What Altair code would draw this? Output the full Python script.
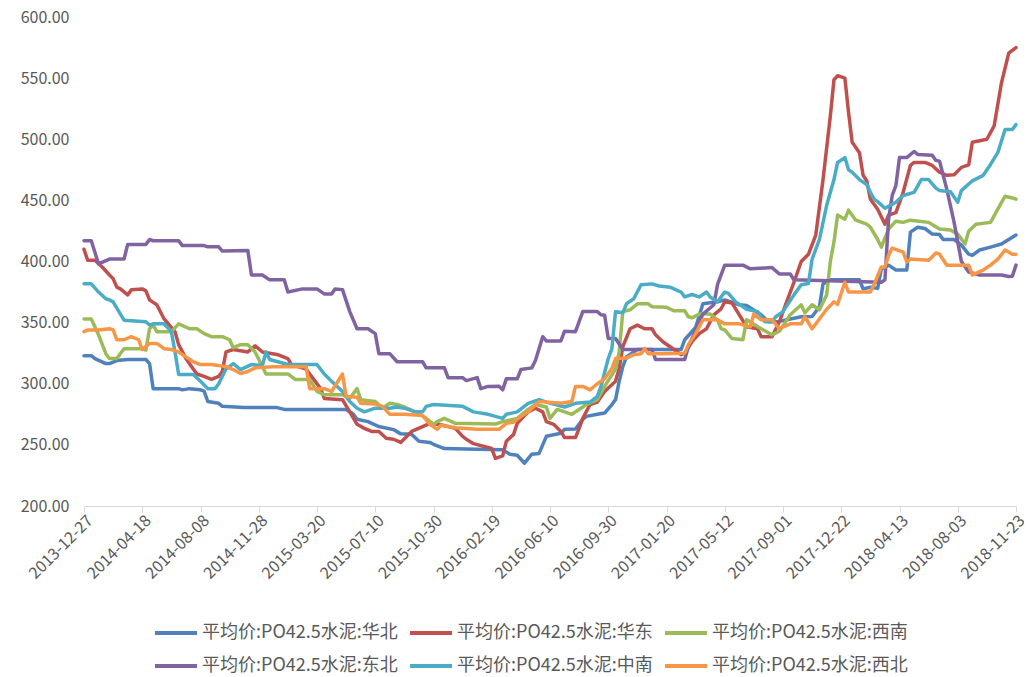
import altair as alt
import pandas as pd

TICK_LABELS = ["2013-12-27", "2014-04-18", "2014-08-08", "2014-11-28", "2015-03-20",
               "2015-07-10", "2015-10-30", "2016-02-19", "2016-06-10", "2016-09-30",
               "2017-01-20", "2017-05-12", "2017-09-01", "2017-12-22", "2018-04-13",
               "2018-08-03", "2018-11-23"]

SERIES_NAMES = ["平均价:PO42.5水泥:华北", "平均价:PO42.5水泥:华东", "平均价:PO42.5水泥:西南",
                "平均价:PO42.5水泥:东北", "平均价:PO42.5水泥:中南", "平均价:PO42.5水泥:西北"]
COLORS = ["#4F81BD", "#C0504D", "#9BBB59", "#8064A2", "#4BACC6", "#F79646"]

# (week index since 2013-12-27, price)
HUABEI = [(0,323),(2,323),(3,320.6),(6,316.5),(7,316.5),(9,319),(12,319.8),(17,319.8),(18,316.5),(19,296),(26,296),(27,295),(29,296),(32,295),(33,294),(34,285.5),(37,284),(38,281.5),(44,280.6),(53,280.5),(55,279),(64,279),(72,279),(74,275),(75,271),(78,269),(81,265),(85,262.5),(87,259),(90,258.6),(92,253),(95,252),(96,250.5),(99,247),(108,246.4),(115,246),(117,242.4),(119,241.5),(121,235),(123,242.4),(125,243),(127,257),(131,259.5),(132,262.7),(135,263),(137,270.9),(138,273.3),(141,275),(143,276),(145,283),(146,287),(147,302),(148,314),(149,322),(152,328),(164,328),(165,336),(168,346),(170,365.4),(174,367),(176,368.6),(180,364.6),(182,364),(186,356.4),(188,350.7),(191,351),(197,354.8),(200,355),(202,363),(203,381.7),(205,385),(213,385),(214,377.6),(216,379),(218,378),(219,394),(221,397),(223,393),(226,393),(227,424),(229,428),(231,427),(233,422.4),(235,422),(236,418),(239,418),(241,413.4),(243,406),(244,405),(246,409.4),(249,411.8),(252,414.3),(256,421.6)]
HUADONG = [(0,410),(1,401),(3,401),(5,395.5),(7,389),(8,386),(9,379),(10,377.6),(12,372.7),(13,376.8),(16,377.6),(17,376),(18,368.6),(20,364.6),(22,353),(25,342.6),(26,332),(28,320.6),(30,312),(31,308),(33,306),(35,303.5),(37,306),(38,310),(39,326),(41,328),(45,326),(47,331),(49,326),(53,324),(56,320.6),(57,315.7),(61,312),(63,304),(65,296),(66,288),(71,287),(73,277),(75,266.8),(77,263.5),(79,261),(81,261),(83,255.4),(85,254.6),(87,252),(88,255),(90,261),(93,265),(95,267.6),(98,266.5),(102,263.5),(104,257),(105,254.6),(107,251),(112,247),(113,239),(115,241),(116,253),(118,258.6),(119,267.6),(122,277),(124,280),(126,277),(127,269),(129,266.8),(131,261),(132,256),(135,256),(136,263.5),(137,271.7),(139,283),(141,285),(143,293.7),(146,302),(147,312.4),(148,330.3),(150,345),(152,348),(154,345),(156,345),(157,340),(159,334.4),(161,330.3),(164,323.8),(165,325),(167,334.4),(169,341),(171,345),(173,356.4),(175,361.3),(176,367),(178,366),(180,356.4),(182,346.6),(185,345),(186,338.5),(189,338.5),(191,350.7),(193,367),(195,383),(197,400),(199,406),(201,421.6),(203,467),(205,519),(206,548.7),(207,552),(209,550),(210,522),(211,497.6),(213,489),(214,470.5),(215,466),(216,451),(218,442.8),(220,430.5),(221,438),(223,440),(225,456.6),(227,478.6),(228,481),(231,481),(233,478.6),(235,473),(237,470.5),(239,471),(241,477),(243,479),(244,497.6),(248,500),(250,511),(252,546),(254,570.5),(256,575)]
XINAN = [(0,353),(2,353),(4,340),(6,324.6),(7,320.6),(9,320.6),(11,328.7),(16,328.7),(17,327.5),(18,345),(19,348),(20,342.6),(24,342.6),(26,349),(29,345),(31,345),(33,341),(35,338.5),(38,338.5),(40,336),(41,329.5),(43,332),(45,332),(47,326),(50,308),(56,308),(58,303.5),(62,303.5),(64,293.7),(66,291),(71,291),(73,288),(75,296),(76,287),(80,285.5),(82,280),(84,284),(86,283),(88,281),(91,277),(94,271.7),(96,266.8),(97,269),(99,271.7),(102,267.6),(113,267),(115,269),(119,271.7),(122,279),(124,283),(127,281),(128,271.7),(130,279),(132,277),(134,275),(136,279),(138,283),(141,287),(143,297.8),(146,312),(147,326),(148,359),(150,360.5),(152,365.4),(155,365.4),(156,363),(160,362.5),(162,359.7),(165,359.7),(166,354.8),(167,354),(169,357),(172,357),(174,352.3),(175,345),(176,344),(178,337),(181,336),(182,352.3),(186,345),(189,340),(191,343),(194,356.4),(197,364.6),(198,358),(200,364.6),(202,360.5),(204,372.7),(205,400),(206,416),(207,438),(209,434.6),(210,442),(212,433.8),(215,430.5),(216,428),(218,418),(219,411.8),(221,426.5),(223,433),(225,432),(227,433.8),(232,432),(235,426.5),(238,425.7),(240,422.4),(242,414.3),(243,424.8),(245,430.5),(249,432),(251,442.8),(253,453.4),(255,452),(256,451)]
DONGBEI = [(0,417),(2,417),(4,398),(7,402),(11,402),(12,414),(17,414),(18,418),(19,417),(26,417),(27,413),(33,413),(34,412),(37,412),(38,408.5),(45,409),(46,389),(49,389),(51,385),(55,385),(56,375),(60,377.6),(64,377.6),(66,373.5),(68,373.5),(69,377.6),(71,377),(73,359),(75,345),(78,345),(80,341),(81,324.6),(84,324.6),(86,318),(93,318),(94,313),(99,313),(100,305),(104,305),(105,302.6),(108,305),(109,296),(111,297.8),(114,298),(115,295),(116,304),(119,304),(120,311.6),(123,313),(124,319),(126,338.5),(127,335),(131,335),(132,343),(135,342.6),(137,359),(141,359),(142,356.4),(143,356),(144,337),(146,337),(148,328),(156,328),(157,319.8),(165,319.8),(166,330.3),(170,357),(173,364.6),(174,381),(176,397),(181,397),(183,394),(189,395),(191,389.8),(194,389.8),(195,385),(219,383),(220,385),(221,434.6),(222,454),(223,462),(224,485),(226,485),(228,490),(229,487.6),(233,487),(234,482.7),(235,482),(237,459),(239,432),(241,400),(243,391.4),(246,389),(252,389),(254,387.7),(255,388),(256,397)]
ZHONGNAN = [(0,381.7),(2,381.7),(4,375),(6,369.5),(7,368.6),(8,367),(10,357),(11,352),(17,350.7),(18,348),(19,349),(22,349),(24,342.6),(25,326),(26,307.5),(30,307.5),(32,302),(34,296),(36,296),(37,300),(39,312),(41,316.5),(43,311.6),(44,313),(46,315.7),(49,315),(50,326),(51,319.8),(56,315.7),(64,315.7),(66,308),(68,302),(71,293.7),(73,285.5),(75,280),(77,277),(80,280),(84,280),(86,281),(88,280),(91,277),(93,277),(94,281.5),(96,283),(104,281.5),(107,277),(111,275),(115,271.7),(116,275),(119,277),(122,284),(125,287),(127,285),(132,281),(135,284),(139,285),(141,289.6),(142,297.8),(144,320.6),(145,328.7),(146,359),(148,358),(149,365.4),(151,369.5),(153,381),(156,381.7),(158,380),(161,379),(164,375),(165,371),(167,373),(169,371),(171,375),(172,371),(174,367),(176,375),(177,374),(179,367),(182,361),(185,359),(187,350.7),(189,350.7),(190,354.8),(192,359),(195,372.7),(197,381),(199,382),(200,402),(202,418),(204,446),(206,467),(207,481),(209,485),(210,475),(211,473),(213,467),(215,463),(216,456.6),(217,451),(218,449),(220,443.6),(223,448.5),(225,454),(228,456.6),(230,467),(232,467),(234,460),(235,458),(238,457),(240,448.5),(241,458),(244,466),(247,470.5),(249,479.4),(251,489),(253,508),(255,508),(256,512)]
XIBEI = [(0,342.6),(1,344),(4,344),(7,345),(8,344),(9,336),(11,336),(13,338.5),(15,336),(16,328),(18,333),(20,333),(22,328.7),(24,328),(26,326),(28,322),(30,318),(32,315.7),(35,315.7),(39,314),(41,311.6),(43,308.4),(45,310),(47,313),(52,314),(61,314),(62,296),(66,296),(68,293.7),(71,308),(72,289.6),(75,289),(76,284),(80,283.5),(82,281.5),(84,275),(88,275),(93,274),(95,266.8),(97,262.7),(98,266),(102,264),(108,262.7),(114,262.7),(116,267.6),(118,268.5),(120,273.3),(122,277),(125,285.5),(131,284),(134,285.5),(135,297.8),(137,297.8),(139,295),(141,300),(143,304),(145,312.4),(146,320.6),(149,321),(151,323.8),(153,324.5),(154,328.7),(155,324.5),(159,324.6),(165,325),(166,332),(168,341),(170,352.3),(174,352.3),(176,349),(180,349),(183,346.6),(184,357),(186,352.3),(189,352.3),(191,345),(194,349),(197,349),(198,354.8),(200,345),(202,353),(204,361),(206,367),(207,365),(209,383),(210,375),(216,375),(217,381),(219,395.5),(220,395.5),(221,405),(222,411),(225,407.7),(226,399.6),(227,402),(232,401),(234,407),(235,406),(237,397),(243,397),(244,389),(247,393),(249,397),(251,402),(253,409.4),(255,406),(256,406)]

SERIES_POINTS = [HUABEI, HUADONG, XINAN, DONGBEI, ZHONGNAN, XIBEI]

rows = []
for name, pts in zip(SERIES_NAMES, SERIES_POINTS):
    for w, v in pts:
        rows.append({"series": name, "week": w, "value": v})
df = pd.DataFrame(rows)

FONT = "Noto Sans CJK SC"
GRAY = "#595959"

label_expr = "[" + ",".join("'%s'" % t for t in TICK_LABELS) + "][round(datum.value/16)]"

x_enc = alt.X("week:Q",
              scale=alt.Scale(domain=[0, 256], nice=False, zero=False),
              axis=alt.Axis(values=list(range(0, 257, 16)), labelExpr=label_expr,
                            labelAngle=-45, labelAlign="right", labelBaseline="top",
                            grid=False, domainColor="#d9d9d9", tickColor="#d9d9d9",
                            tickSize=6, labelColor=GRAY, labelFontSize=16, labelFont=FONT,
                            labelPadding=0, labelOverlap=False, labelFlush=False, title=None))
y_enc = alt.Y("value:Q",
              scale=alt.Scale(domain=[200, 600], nice=False, zero=False),
              axis=alt.Axis(values=list(range(200, 601, 50)), format=".2f", grid=False,
                            domain=False, ticks=False, labelColor=GRAY, labelFontSize=16,
                            labelFont=FONT, labelPadding=15, labelFlush=False, title=None))
color_enc = alt.Color("series:N",
                      scale=alt.Scale(domain=SERIES_NAMES, range=COLORS),
                      legend=alt.Legend(orient="none", legendX=69, legendY=593, columns=3,
                                        direction="horizontal", symbolType="stroke",
                                        symbolSize=1764, symbolStrokeWidth=4,
                                        labelFontSize=18, labelFont=FONT, labelColor=GRAY,
                                        labelOffset=3, columnPadding=4, rowPadding=1,
                                        labelLimit=0, title=None))

layers = []
for name in SERIES_NAMES:
    layers.append(
        alt.Chart(df).transform_filter(alt.datum.series == name)
        .mark_line(strokeWidth=3.5, strokeJoin="round", strokeCap="round")
        .encode(x=x_enc, y=y_enc, color=color_enc)
    )

chart = alt.layer(*layers).properties(
    width=932, height=489,
    padding={"left": 76, "top": 9, "right": 8, "bottom": 170},
    autosize=alt.AutoSizeParams(type="none"),
).configure_view(stroke=None)

chart.save("out.html", embed_options={"renderer": "svg", "actions": False})
